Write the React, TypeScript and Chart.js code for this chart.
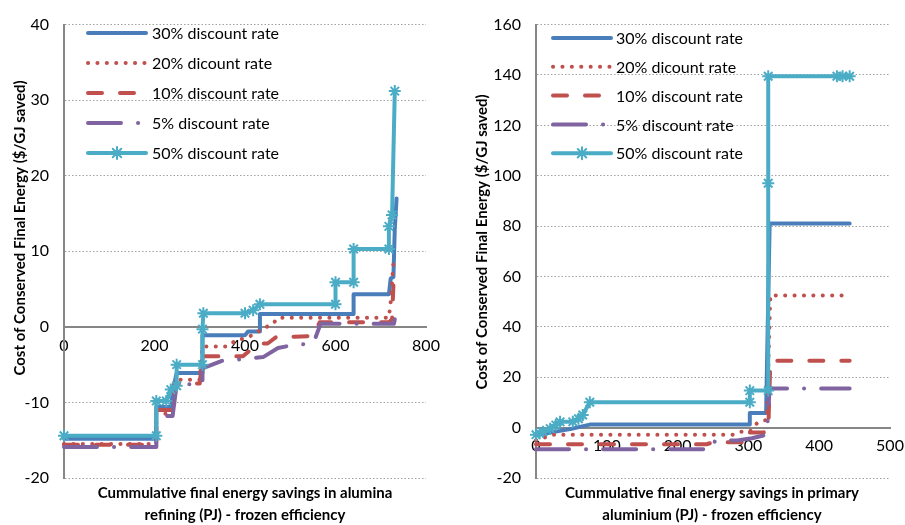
import { useEffect, useRef } from 'react';
import { Chart, registerables } from 'chart.js';

Chart.register(...registerables);

const FONT = 'Lato, "Open Sans", sans-serif';

const seriesLabels = [
  '30% discount rate',
  '20% dicount rate',
  '10% discount rate',
  '5% discount rate',
  '50% discount rate',
];

// Left panel: alumina refining  [cumulative PJ, $/GJ]
const alumina30 = [[0, -14.8], [204, -14.8], [204, -10.6], [237, -10.6], [240, -8.5], [249, -6.1], [306, -6.1], [306, -1.1], [400, -1.1], [407, -0.6], [433, -0.6], [433, 1.7], [640, 1.7], [640, 4.3], [718, 4.3], [722, 6.4], [728, 6.6], [731, 13], [735, 17]];
const alumina20 = [[0, -15.5], [204, -15.5], [204, -11.5], [240, -11.5], [245, -7.0], [300, -7.0], [306, -2.6], [360, -2.6], [380, -1.8], [400, -1.5], [420, -1.0], [440, -0.2], [460, 0.3], [473, 1.2], [718, 1.2], [722, 3.4], [729, 9.4]];
const alumina10 = [[0, -15.6], [204, -15.6], [204, -11.0], [240, -11.0], [245, -7.5], [300, -7.5], [306, -3.9], [395, -3.9], [430, -2.2], [450, -2.2], [470, -1.3], [510, -1.3], [550, -1.2], [565, 0.6], [718, 0.6], [725, 1.0], [729, 7.0]];
const alumina5 = [[0, -15.9], [204, -15.9], [204, -11.8], [240, -11.8], [249, -7.6], [306, -7.6], [306, -5.5], [349, -4.5], [389, -4.3], [440, -4.0], [473, -2.8], [507, -2.4], [551, -2.2], [567, 0.4], [729, 0.4], [731, 1.0]];
const alumina50 = [[0, -14.4], [204, -14.4], [204, -9.8], [226, -9.8], [236, -8.3], [249, -7.8], [249, -5.0], [306, -5.0], [306, -0.3], [308, 1.8], [400, 1.8], [418, 2.2], [433, 3.0], [600, 3.0], [600, 5.9], [640, 5.9], [640, 10.3], [718, 10.3], [718, 13.3], [725, 14.8], [731, 31.2]];

// Right panel: primary aluminium
const aluminium30 = [[0, -3.0], [30, -1.5], [50, -0.5], [65, 0.5], [76, 1.2], [302, 1.2], [302, 5.8], [325, 5.8], [330, 81], [443, 81]];
const aluminium20 = [[0, -5.0], [25, -2.8], [278, -2.8], [290, -1.6], [302, -1.6], [313, 2.0], [326, 3.1], [331, 52.5], [443, 52.5]];
const aluminium10 = [[0, -6.6], [241, -6.6], [250, -5.8], [302, -5.8], [302, -1.9], [321, -1.9], [328, -1.5], [331, 26.5], [443, 26.5]];
const aluminium5 = [[0, -8.6], [249, -8.6], [253, -5.1], [284, -5.1], [305, -4.2], [326, -2.8], [330, 15.5], [443, 15.5]];
const aluminium50 = [[0, -2.8], [5, -2.2], [10, -1.6], [20, -0.4], [28, 1.0], [34, 2.3], [52, 2.3], [60, 3.5], [66, 5.0], [76, 10.1], [302, 10.1], [302, 14.7], [328, 14.7], [328, 97], [328, 139.5], [425, 139.5], [433, 139.5], [443, 139.5]];

const leftXTicks = { min: 0, max: 800, step: 200 };
const leftYTicks = { min: -20, max: 40, step: 10 };
const rightXTicks = { min: 0, max: 500, step: 100 };
const rightYTicks = { min: -20, max: 160, step: 20 };

const yTitle = 'Cost of Conserved Final Energy ($/GJ saved)';
const leftXTitle = ['Cummulative final energy savings in alumina', 'refining (PJ) - frozen efficiency'];
const rightXTitle = ['Cummulative final energy savings in primary', 'aluminium (PJ) - frozen efficiency'];

const BLUE = '#4A7EBB';
const RED = '#C0504D';
const PURPLE = '#8064A2';
const CYAN = '#4BACC6';

const styles = [
  { color: BLUE, dash: [] as number[], order: 5 },
  { color: RED, dash: [0.1, 9.3], order: 4 },
  { color: RED, dash: [14, 18], order: 3 },
  { color: PURPLE, dash: [33, 17, 0.1, 17], order: 2 },
  { color: CYAN, dash: [] as number[], order: 1 },
];

function drawStar(ctx: CanvasRenderingContext2D, x: number, y: number, r: number) {
  ctx.beginPath();
  ctx.moveTo(x - r, y);
  ctx.lineTo(x + r, y);
  ctx.moveTo(x, y - r);
  ctx.lineTo(x, y + r);
  const d = r * 0.7071;
  ctx.moveTo(x - d, y - d);
  ctx.lineTo(x + d, y + d);
  ctx.moveTo(x - d, y + d);
  ctx.lineTo(x + d, y - d);
  ctx.stroke();
}

const annotate = {
  id: 'annotate',
  afterDraw(chart: any, _args: any, opts: any) {
    const ctx: CanvasRenderingContext2D = chart.ctx;
    ctx.save();
    chart.data.datasets.forEach((d: any, i: number) => {
      const y = opts.legendY + i * opts.legendGap;
      ctx.save();
      ctx.beginPath();
      ctx.setLineDash(d.borderDash || []);
      ctx.lineCap = 'round';
      ctx.lineWidth = d.borderWidth;
      ctx.strokeStyle = d.borderColor;
      ctx.moveTo(opts.legendX, y);
      ctx.lineTo(opts.legendX + opts.legendLen, y);
      ctx.stroke();
      ctx.setLineDash([]);
      if (d.pointRadius) {
        ctx.lineWidth = d.pointBorderWidth;
        drawStar(ctx, opts.legendX + opts.legendLen / 2, y, d.pointRadius);
      }
      ctx.restore();
      ctx.fillStyle = '#000';
      ctx.font = `16px ${FONT}`;
      ctx.textBaseline = 'middle';
      ctx.textAlign = 'left';
      ctx.fillText(d.label, opts.legendX + opts.legendLen + opts.textGap, y + 1);
    });
    ctx.fillStyle = '#000';
    ctx.font = `bold 15px ${FONT}`;
    ctx.textAlign = 'center';
    ctx.textBaseline = 'middle';
    ctx.save();
    ctx.translate(opts.yTitleX, opts.yTitleY);
    ctx.rotate(-Math.PI / 2);
    ctx.fillText(opts.yTitle, 0, 0);
    ctx.restore();
    opts.xTitle.forEach((line: string, i: number) => {
      ctx.fillText(line, opts.xTitleX, opts.xTitleY + i * opts.xTitleGap);
    });
    ctx.restore();
  },
};

function buildConfig(
  series: number[][][],
  xt: { min: number; max: number; step: number },
  yt: { min: number; max: number; step: number },
  padding: { left: number; right: number; top: number; bottom: number },
  yAxisWidth: number,
  annot: any
): any {
  const datasets = series.map((s, i) => ({
    label: seriesLabels[i],
    data: s.map(([x, y]) => ({ x, y })),
    borderColor: styles[i].color,
    backgroundColor: styles[i].color,
    borderWidth: 4,
    borderDash: styles[i].dash,
    borderCapStyle: 'round',
    borderJoinStyle: 'round',
    pointRadius: i === 4 ? 6 : 0,
    pointHoverRadius: i === 4 ? 6 : 0,
    pointStyle: 'star',
    pointBorderColor: CYAN,
    pointBorderWidth: 2,
    fill: false,
    tension: 0,
    order: styles[i].order,
    clip: 10,
  }));
  return {
    type: 'line',
    data: { datasets },
    plugins: [annotate],
    options: {
      animation: false,
      responsive: false,
      maintainAspectRatio: false,
      events: [],
      layout: { padding },
      plugins: {
        legend: { display: false },
        tooltip: { enabled: false },
        annotate: annot,
      },
      scales: {
        x: {
          type: 'linear',
          min: xt.min,
          max: xt.max,
          position: { y: 0 },
          grid: { display: false, drawTicks: false },
          border: { display: true, color: '#868686', width: 2 },
          ticks: {
            stepSize: xt.step,
            color: '#000',
            font: { family: FONT, size: 16 },
            padding: 9,
            maxRotation: 0,
            autoSkip: false,
          },
          afterFit: (s: any) => {
            s.paddingLeft = 0;
            s.paddingRight = 0;
          },
        },
        y: {
          type: 'linear',
          min: yt.min,
          max: yt.max,
          grid: {
            color: (c: any) => (c.tick && c.tick.value === 0 ? 'rgba(0,0,0,0)' : '#A0A0A0'),
            lineWidth: 1,
            drawTicks: false,
          },
          border: { display: true, color: '#868686', width: 2, dash: [1.5, 2] },
          ticks: {
            stepSize: yt.step,
            color: '#000',
            font: { family: FONT, size: 16 },
            padding: 15,
            autoSkip: false,
          },
          afterFit: (s: any) => {
            s.width = yAxisWidth;
          },
        },
      },
    },
  };
}

function ChartCanvas({ config, left, width, height }: { config: () => any; left: number; width: number; height: number }) {
  const ref = useRef<HTMLCanvasElement | null>(null);
  useEffect(() => {
    if (!ref.current) return;
    const chart = new Chart(ref.current, config());
    return () => chart.destroy();
  }, []);
  return (
    <canvas
      ref={ref}
      width={width}
      height={height}
      style={{ position: 'absolute', left, top: 0, width, height }}
    />
  );
}

export default function App() {
  const leftConfig = () =>
    buildConfig(
      [alumina30, alumina20, alumina10, alumina5, alumina50],
      leftXTicks,
      leftYTicks,
      { left: 0, right: 27, top: 15, bottom: 47 },
      64,
      {
        legendX: 88,
        legendY: 33,
        legendGap: 30,
        legendLen: 58,
        textGap: 6,
        yTitle,
        yTitleX: 20,
        yTitleY: 228,
        xTitle: leftXTitle,
        xTitleX: 245,
        xTitleY: 493,
        xTitleGap: 22,
      }
    );
  const rightConfig = () =>
    buildConfig(
      [aluminium30, aluminium20, aluminium10, aluminium5, aluminium50],
      rightXTicks,
      rightYTicks,
      { left: 0, right: 15, top: 19, bottom: 47 },
      83,
      {
        legendX: 100,
        legendY: 38,
        legendGap: 28.8,
        legendLen: 58,
        textGap: 5,
        yTitle,
        yTitleX: 29,
        yTitleY: 242,
        xTitle: rightXTitle,
        xTitleX: 259,
        xTitleY: 493,
        xTitleGap: 22,
      }
    );
  return (
    <div style={{ position: 'absolute', left: 0, top: 0, width: 905, height: 525, background: '#fff' }}>
      <ChartCanvas config={leftConfig} left={0} width={453} height={525} />
      <ChartCanvas config={rightConfig} left={453} width={452} height={525} />
    </div>
  );
}
